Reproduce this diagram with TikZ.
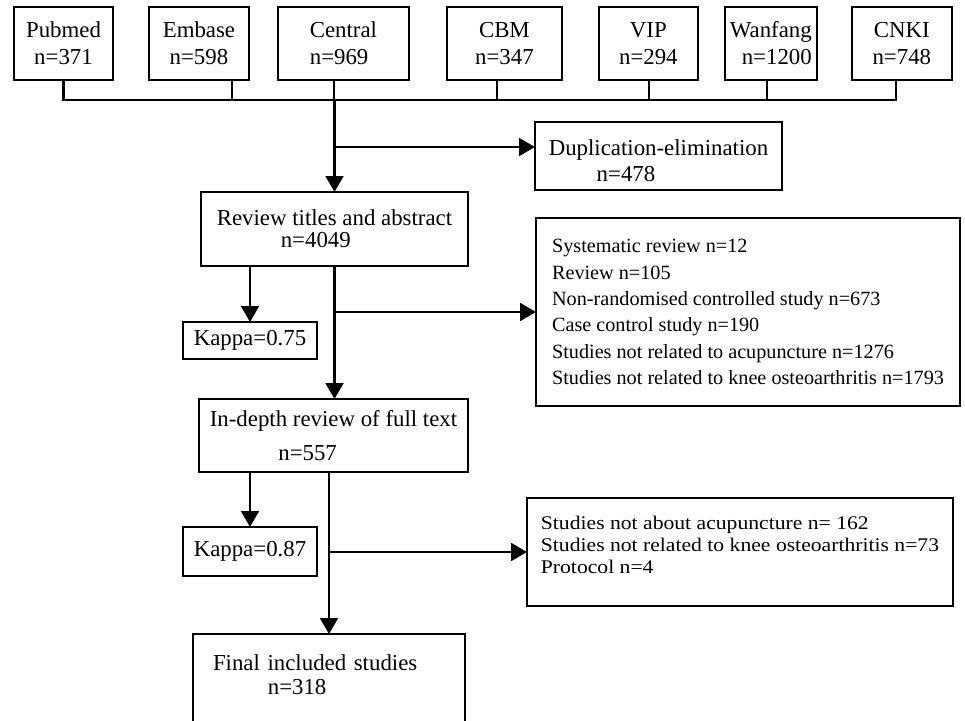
\documentclass[tikz,border=0pt]{standalone}
\usepackage{fontspec}
\setmainfont{Liberation Serif}
\newfontfamily\widefont[FakeStretch=1.12]{Liberation Serif}
\usetikzlibrary{arrows.meta, positioning}
\tikzset{
  dbbox/.style={rectangle, draw, line width=1.4pt, minimum height=1.46cm,
    inner sep=0pt, outer sep=0pt, align=center,
    font=\fontsize{13}{15.4}\selectfont},
  stepbox/.style={rectangle, draw, line width=1.5pt, inner sep=0pt,
    outer sep=0pt, align=left, font=\fontsize{13}{15.4}\selectfont},
  kappabox/.style={stepbox, minimum width=2.68cm},
  exclbox/.style={stepbox, font=\fontsize{11.5}{15}\selectfont},
  arrow/.style={-{Triangle[length=9pt, width=10pt]}, line width=1.5pt},
  link/.style={line width=1.2pt},
}

\begin{document}
\begin{tikzpicture}[x=0.02cm, y=-0.02cm]
  \useasboundingbox[fill=white] (0,0) rectangle (965,721);
  \clip (0,0) rectangle (965,721);

  % Databases
  \node[dbbox, minimum width=1.98cm] (pubmed) at (63.5,43.5) {Pubmed\\n=371};
  \node[dbbox, minimum width=2cm, right=0.72cm of pubmed] (embase) {Embase\\n=598};
  \node[dbbox, minimum width=2.62cm, right=0.58cm of embase, align=left] (central) {Central\\n=969};
  \node[dbbox, minimum width=2.3cm, right=0.76cm of central] (cbm) {CBM\\n=347};
  \node[dbbox, minimum width=1.98cm, right=0.74cm of cbm] (vip) {VIP\\n=294};
  \node[dbbox, minimum width=1.84cm, right=0.54cm of vip, align=right] (wanfang) {Wanfang\\n=1200};
  \node[dbbox, minimum width=2cm, right=0.7cm of wanfang] (cnki) {CNKI\\n=748};

  \coordinate (bus) at (0,100);
  \foreach \db/\dx in {pubmed/0, embase/33, central/-9, cbm/-7, vip/1, wanfang/-4, cnki/-6}
    \draw[link] ([xshift=\dx*0.02cm]\db.south) -- ([xshift=\dx*0.02cm]\db.south |- bus);
  \draw[link, line cap=rect] (pubmed.south |- bus) -- ([xshift=-0.12cm]cnki.south |- bus);

  % Screening steps
  \node[stepbox, minimum width=4.94cm, minimum height=1.36cm] (dedup) at (658.5,156)
    {\mbox{}\\[-1pt]Duplication-elimination\\[-1pt]\hspace*{2.1em}n=478};
  \node[stepbox, minimum width=5.34cm, minimum height=1.48cm] (screen) at (334.5,229)
    {Review titles and abstract\\[-3pt]\hspace*{2.8em}n=4049};
  \node[kappabox, minimum height=0.74cm] (kappascreen) at (250,340.5) {Kappa=0.75};
  \node[exclbox, minimum width=8.48cm, minimum height=3.76cm] (screenout) at (748,312)
    {Systematic review n=12\\
     Review n=105\\
     Non-randomised controlled study n=673\\
     Case control study n=190\\
     Studies not related to acupuncture n=1276\\
     Studies not related to knee osteoarthritis n=1793};
  \node[stepbox, minimum width=5.38cm, minimum height=1.46cm] (fulltext) at (333.5,435.5)
    {In-depth review of full text\\[4pt]\hspace*{3em}n=557};
  \node[kappabox, minimum height=0.98cm] (kappafull) at (250,551.5) {Kappa=0.87};
  \node[stepbox, minimum width=8.52cm, minimum height=2.16cm,
    font=\widefont\fontsize{11}{12.5}\selectfont] (fulltextout) at (740,552)
    {Studies not about acupuncture n= 162\\
     Studies not related to knee osteoarthritis n=73\\
     Protocol n=4\\[-4pt]\mbox{}};
  \node[stepbox, text width=4.64cm, inner xsep=0.4cm, minimum height=2.7cm] (included) at (329,701.5)
    {Final included studies\\[-2pt]\hspace*{2.4em}n=318\\\mbox{}\\\mbox{}};

  % Flow
  \draw[arrow] (screen.north |- bus) -- (screen.north);
  \draw[arrow] ([yshift=0.18cm]dedup.west -| screen.north) -- ([yshift=0.18cm]dedup.west);
  \draw[arrow] (kappascreen.north |- screen.south) -- (kappascreen.north);
  \draw[arrow] (screen.south) -- (screen.south |- fulltext.north);
  \draw[arrow] (screen.south |- screenout.west) -- (screenout.west);
  \draw[arrow] (kappafull.north |- fulltext.south) -- (kappafull.north);
  \draw[arrow] (included.north |- fulltext.south) -- (included.north);
  \draw[arrow] (included.north |- fulltextout.west) -- (fulltextout.west);
\end{tikzpicture}
\end{document}
